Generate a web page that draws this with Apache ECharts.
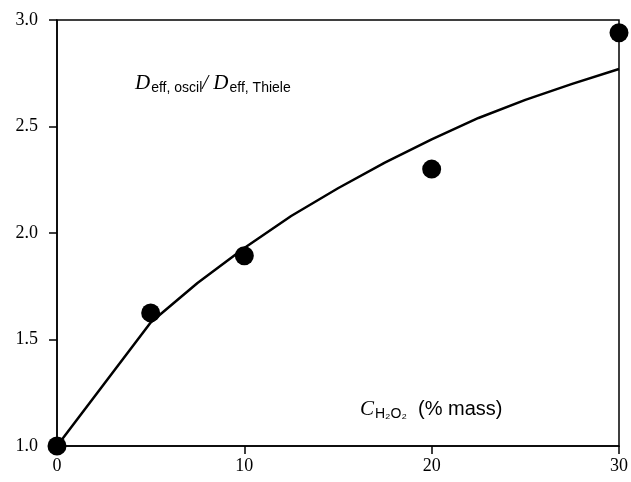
<!DOCTYPE html>
<html>
<head>
<meta charset="utf-8">
<script src="https://cdn.jsdelivr.net/npm/echarts@6/dist/echarts.min.js"></script>
<style>
  html, body { margin: 0; padding: 0; background: #fff; }
  #chart { width: 631px; height: 482px; }
</style>
</head>
<body>
<div id="chart"></div>
<script>
// measured points
var pointX = [0, 5, 10, 20, 30];
var pointY = [1.0, 1.625, 1.893, 2.30, 2.94];
// fitted curve
var curveX = [0, 2.5, 5, 7.5, 10, 12.5, 15, 17.5, 20, 22.5, 25, 27.5, 30];
var curveY = [1.0, 1.29, 1.58, 1.765, 1.93, 2.08, 2.21, 2.33, 2.44, 2.54, 2.625, 2.70, 2.77];

function pairs(xs, ys) {
    var out = [];
    for (var i = 0; i < xs.length; i++) out.push([xs[i], ys[i]]);
    return out;
}

var myChart = echarts.init(document.getElementById('chart'));
myChart.setOption({
    animation: false,
    grid: { left: 57, right: 12, top: 20, bottom: 36, show: true, borderColor: '#000', borderWidth: 1.5 },
    title: [{
        text: '{d|D}{s|eff, oscil}{d|/ D}{s|eff, Thiele}',
        left: 130, top: 66,
        textStyle: {
            fontWeight: 'normal',
            rich: {
                d: { fontFamily: 'Liberation Serif', fontStyle: 'italic', fontWeight: 'normal', fontSize: 21, color: '#000' },
                s: { fontFamily: 'Liberation Sans', fontWeight: 'normal', fontSize: 14, color: '#000', padding: [10, 0, 0, 1] }
            }
        }
    }, {
        text: '{d|C}{s|H₂O₂}{t|  (% mass)}',
        left: 355, top: 392,
        textStyle: {
            fontWeight: 'normal',
            rich: {
                d: { fontFamily: 'Liberation Serif', fontStyle: 'italic', fontWeight: 'normal', fontSize: 21, color: '#000' },
                s: { fontFamily: 'Liberation Sans', fontWeight: 'normal', fontSize: 14, color: '#000', padding: [10, 0, 0, 1] },
                t: { fontFamily: 'Liberation Sans', fontWeight: 'normal', fontSize: 20, color: '#000' }
            }
        }
    }],
    xAxis: {
        type: 'value', min: 0, max: 30, interval: 10,
        axisLine: { lineStyle: { color: '#000', width: 1.5 } },
        axisTick: { length: 8, lineStyle: { color: '#000', width: 1.5 } },
        axisLabel: { color: '#000', fontFamily: 'Liberation Serif', fontSize: 18, margin: 11 },
        splitLine: { show: false }
    },
    yAxis: {
        type: 'value', min: 1.0, max: 3.0, interval: 0.5,
        axisLine: { show: true, lineStyle: { color: '#000', width: 1.5 } },
        axisTick: { show: true, length: 8, lineStyle: { color: '#000', width: 1.5 } },
        axisLabel: { color: '#000', fontFamily: 'Liberation Serif', fontSize: 18, margin: 19,
            formatter: function (v) { return v.toFixed(1); } },
        splitLine: { show: false }
    },
    series: [{
        type: 'line',
        data: pairs(curveX, curveY),
        smooth: false,
        showSymbol: false,
        lineStyle: { color: '#000', width: 2.5, join: 'round' },
        z: 2
    }, {
        type: 'scatter',
        data: pairs(pointX, pointY),
        symbolSize: 19,
        itemStyle: { color: '#000', opacity: 1 },
        clip: false,
        z: 3
    }]
});
</script>
</body>
</html>
